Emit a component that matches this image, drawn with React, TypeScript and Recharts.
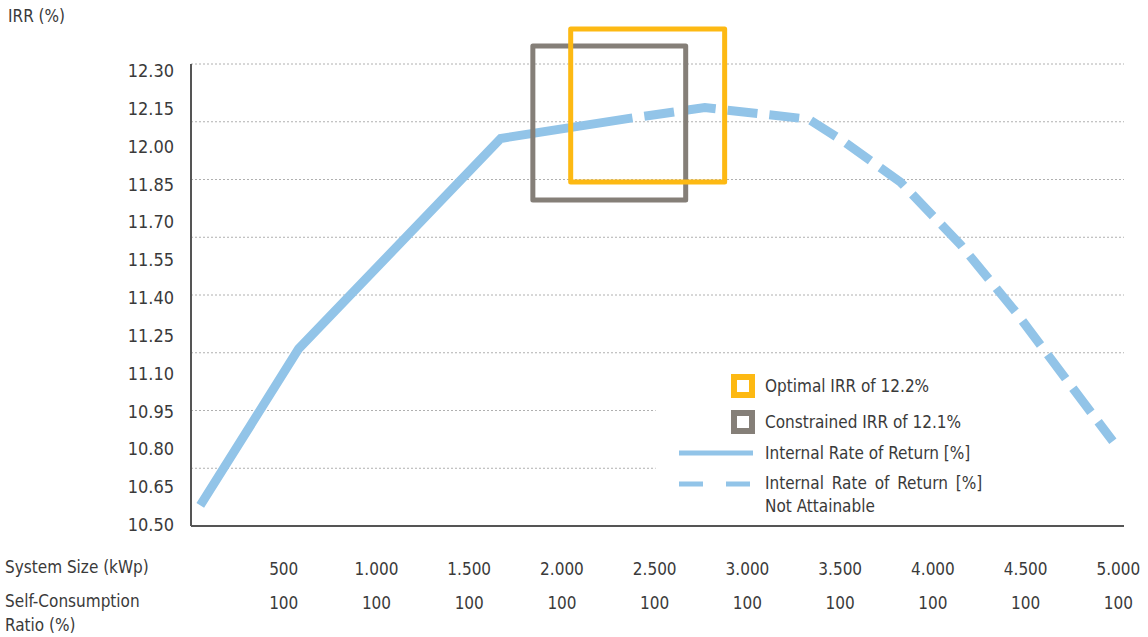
import React from "react";
import { LineChart, Line, XAxis, YAxis, ReferenceLine, ReferenceArea, Legend } from "recharts";

// system size (kWp) ticks along the bottom and the self-consumption row below them
const X_TICKS = [500, 1000, 1500, 2000, 2500, 3000, 3500, 4000, 4500, 5000];
const SELF_CONSUMPTION = [100, 100, 100, 100, 100, 100, 100, 100, 100, 100];
const Y_TICKS = [10.5, 10.65, 10.8, 10.95, 11.1, 11.25, 11.4, 11.55, 11.7, 11.85, 12.0, 12.15, 12.3];

// IRR curve
const SYSTEM_SIZE = [50, 580, 1670, 2380, 2770, 3330, 3515, 3825, 4150, 4445, 4730, 4970];
const IRR_ATTAINABLE = [10.58, 11.19, 12.01, 12.09, null, null, null, null, null, null, null, null];
const IRR_NOT_ATTAINABLE = [null, null, null, 12.09, 12.13, 12.085, 12.0, 11.84, 11.595, 11.335, 11.06, 10.83];

// dotted guide lines (the two lowest stop at the legend)
const GRID_FULL = [11.175, 11.4, 11.625, 11.85, 12.075, 12.3];
const GRID_SHORT = [10.725, 10.95];

// highlight boxes: [x1, x2, y1, y2]
const OPTIMAL_BOX = [2047, 2877, 11.84, 12.436];
const CONSTRAINED_BOX = [1843, 2667, 11.77, 12.37];

const BLUE = "#92C4E8";
const ORANGE = "#FDB913";
const GREY = "#857F78";
const TEXT = "#3a3a3a";
const AXIS = "#555555";
const FONT = "'DejaVu Sans Condensed', 'Liberation Sans Narrow', Roboto, sans-serif";
const FS = 17;

const data = SYSTEM_SIZE.map((x, i) => ({
  size: x,
  solid: IRR_ATTAINABLE[i],
  dashed: IRR_NOT_ATTAINABLE[i],
}));

const fmtThousands = (v: number) => String(v).replace(/\B(?=(\d{3})+(?!\d))/g, ".");

function XTick(props: any) {
  const { x, y, payload, index } = props;
  return (
    <g>
      <text x={x} y={y + 47} textAnchor="middle" fill={TEXT} fontSize={FS} fontFamily={FONT}>
        {fmtThousands(payload.value)}
      </text>
      <text x={x} y={y + 81} textAnchor="middle" fill={TEXT} fontSize={FS} fontFamily={FONT}>
        {SELF_CONSUMPTION[index]}
      </text>
    </g>
  );
}

// the printed labels sit on a slightly tighter ladder than the grid itself
function YTick(props: any) {
  const { y, payload } = props;
  const ly = 70 + (y - 64) * (454 / 462);
  return (
    <text x={174} y={ly + 7} textAnchor="end" fill={TEXT} fontSize={FS + 1} fontFamily={FONT}>
      {payload.value.toFixed(2)}
    </text>
  );
}

function LegendBox({ color }: { color: string }) {
  return (
    <svg width={24} height={24} style={{ display: "block" }}>
      <rect x={3} y={3} width={18} height={18} fill="#fff" stroke={color} strokeWidth={6} />
    </svg>
  );
}

function renderLegend() {
  const row: React.CSSProperties = { display: "flex", alignItems: "center", height: 30 };
  const label: React.CSSProperties = { fontFamily: FONT, fontSize: FS, color: TEXT, marginLeft: 10, lineHeight: "23px" };
  return (
    <div style={{ fontFamily: FONT }}>
      <div style={{ ...row, height: 26, marginTop: 3 }}>
        <div style={{ width: 52 }} />
        <LegendBox color={ORANGE} />
        <span style={label}>Optimal IRR of 12.2%</span>
      </div>
      <div style={{ ...row, height: 26, marginTop: 10 }}>
        <div style={{ width: 52 }} />
        <LegendBox color={GREY} />
        <span style={label}>Constrained IRR of 12.1%</span>
      </div>
      <div style={{ ...row, marginTop: 3 }}>
        <svg width={76} height={10}>
          <line x1={0} y1={5} x2={74} y2={5} stroke={BLUE} strokeWidth={5} />
        </svg>
        <span style={label}>Internal Rate of Return [%]</span>
      </div>
      <div style={{ display: "flex", alignItems: "flex-start", marginTop: 4 }}>
        <svg width={76} height={24}>
          <line x1={0} y1={12} x2={74} y2={12} stroke={BLUE} strokeWidth={5} strokeDasharray="24 23" />
        </svg>
        <span style={{ ...label, wordSpacing: 3, lineHeight: "23px" }}>
          Internal Rate of Return [%]
          <br />
          <span style={{ wordSpacing: 0 }}>Not Attainable</span>
        </span>
      </div>
    </div>
  );
}

export default function App() {
  return (
    <div style={{ position: "absolute", left: 0, top: 0, width: 1148, height: 637, background: "#fff" }}>
      <div style={{ position: "absolute", left: 8, top: 6, fontFamily: FONT, fontSize: FS, color: TEXT }}>IRR (%)</div>
      <div style={{ position: "absolute", left: 5, top: 555, fontFamily: FONT, fontSize: FS, color: TEXT, lineHeight: "24px" }}>
        System Size (kWp)
      </div>
      <div style={{ position: "absolute", left: 5, top: 589, fontFamily: FONT, fontSize: FS, color: TEXT, lineHeight: "24px" }}>
        Self-Consumption
        <br />
        Ratio (%)
      </div>
      <LineChart width={1148} height={637} data={data} margin={{ top: 64, right: 24, left: 0, bottom: 0 }}>
        <XAxis
          dataKey="size"
          type="number"
          domain={[0, 5030]}
          ticks={X_TICKS}
          tick={<XTick />}
          tickLine={false}
          tickSize={0}
          height={111}
          axisLine={{ stroke: AXIS, strokeWidth: 2 }}
        />
        <YAxis
          yAxisId="irr"
          type="number"
          domain={[10.5, 12.3]}
          ticks={Y_TICKS}
          interval={0}
          tick={<YTick />}
          tickLine={false}
          width={191}
          axisLine={{ stroke: AXIS, strokeWidth: 2 }}
        />
        {GRID_FULL.map((v) => (
          <ReferenceLine key={v} yAxisId="irr" y={v} stroke="#b0b0b0" strokeDasharray="2 2" strokeWidth={1} />
        ))}
        {GRID_SHORT.map((v) => (
          <ReferenceLine
            key={v}
            yAxisId="irr"
            segment={[{ x: 0, y: v }, { x: 2505, y: v }]}
            stroke="#b0b0b0"
            strokeDasharray="2 2"
            strokeWidth={1}
          />
        ))}
        <Line
          yAxisId="irr"
          dataKey="solid"
          stroke={BLUE}
          strokeWidth={9}
          dot={false}
          activeDot={false}
          connectNulls={false}
          isAnimationActive={false}
        />
        <Line
          yAxisId="irr"
          dataKey="dashed"
          stroke={BLUE}
          strokeWidth={9}
          strokeDasharray="30 12"
          strokeDashoffset={30}
          dot={false}
          activeDot={false}
          connectNulls={false}
          isAnimationActive={false}
        />
        <ReferenceArea
          yAxisId="irr"
          x1={CONSTRAINED_BOX[0]}
          x2={CONSTRAINED_BOX[1]}
          y1={CONSTRAINED_BOX[2]}
          y2={CONSTRAINED_BOX[3]}
          fill="none"
          fillOpacity={0}
          stroke={GREY}
          strokeWidth={5}
          strokeLinejoin="round"
          ifOverflow="visible"
          zIndex={600}
        />
        <ReferenceArea
          yAxisId="irr"
          x1={OPTIMAL_BOX[0]}
          x2={OPTIMAL_BOX[1]}
          y1={OPTIMAL_BOX[2]}
          y2={OPTIMAL_BOX[3]}
          fill="none"
          fillOpacity={0}
          stroke={ORANGE}
          strokeWidth={5}
          strokeLinejoin="round"
          ifOverflow="visible"
          zIndex={600}
        />
        <Legend
          layout="vertical"
          align="center"
          verticalAlign="middle"
          content={renderLegend}
          wrapperStyle={{ left: 679, top: 370, width: 340, height: 150 }}
        />
      </LineChart>
    </div>
  );
}
